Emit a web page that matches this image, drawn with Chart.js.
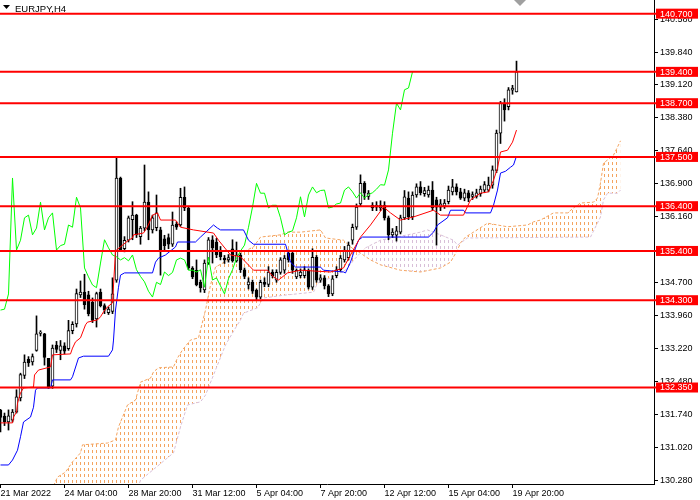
<!DOCTYPE html>
<html lang="en">
  <head>
    <meta charset="UTF-8" />
    <title>EURJPY,H4</title>
    <style>
      html, body { margin: 0; padding: 0; background: #fff; }
    </style>
  </head>
  <body>
    <canvas id="myChart" width="700" height="500"></canvas>

    <script src="https://cdn.jsdelivr.net/npm/chart.js@4.4.0/dist/chart.umd.min.js"></script>
    <script>
      // EURJPY H4 candles, 21 Mar - 20 Apr 2022
      const opens = [
        131.84, 131.71, 131.58, 131.62, 131.80, 132.12, 132.62, 132.98, 132.92, 133.18,
        133.56, 133.55, 133.00, 132.38, 133.30, 133.18, 133.28, 133.22, 133.62, 133.77,
        134.42, 134.48, 134.42, 134.25, 133.88, 134.48, 134.18, 134.02, 134.05, 134.75,
        137.03, 135.45, 135.64, 136.10, 136.20, 135.72, 135.91, 136.49, 135.87, 135.92,
        135.87, 135.67, 135.70, 135.55, 136.00, 135.98, 136.60, 136.36, 135.02, 134.97,
        134.70, 134.53, 135.13, 135.65, 135.60, 135.42, 135.24, 135.20, 135.45, 135.18,
        135.31, 134.98, 134.64, 134.70, 134.52, 134.37, 134.70, 134.65, 134.93, 134.75,
        134.92, 134.97, 135.35, 135.35, 134.82, 134.85, 134.85, 134.97, 134.59, 135.26,
        134.75, 134.80, 134.62, 134.44, 134.85, 134.98, 135.20, 135.25, 135.64, 135.93,
        136.45, 136.91, 136.62, 136.42, 136.38, 136.36, 136.42, 136.14, 135.76, 135.75,
        135.82, 136.14, 136.58, 136.16, 136.65, 136.83, 136.68, 136.65, 136.76, 136.54,
        136.38, 136.40, 136.50, 136.72, 136.83, 136.72, 136.58, 136.70, 136.62, 136.62,
        136.68, 136.76, 136.76, 136.87, 137.20, 138.03, 138.70, 138.62, 138.99, 138.95
      ];
      const highs = [
        131.86, 131.78, 131.85, 131.86, 132.30, 132.67, 133.08, 133.04, 133.10, 133.95,
        133.62, 133.56, 133.00, 133.30, 133.38, 133.40, 133.35, 133.85, 133.82, 134.55,
        134.73, 134.88, 134.50, 134.35, 134.48, 134.55, 134.22, 134.15, 134.80, 137.50,
        137.05, 135.72, 136.18, 136.50, 136.22, 135.95, 137.32, 136.72, 136.20, 136.65,
        135.93, 135.75, 135.78, 136.27, 136.05, 136.80, 136.83, 136.40, 135.05, 135.20,
        134.75, 135.20, 135.70, 135.74, 135.68, 135.50, 135.30, 135.32, 135.65, 135.60,
        135.35, 135.02, 134.80, 134.75, 134.55, 134.75, 134.80, 135.05, 134.98, 134.98,
        135.25, 135.30, 135.42, 135.40, 135.00, 135.00, 135.05, 135.00, 135.45, 135.30,
        134.87, 134.85, 134.65, 134.85, 135.05, 135.30, 135.50, 135.60, 136.00, 136.45,
        137.10, 136.95, 136.75, 136.48, 136.50, 136.52, 136.50, 136.18, 135.90, 135.95,
        136.20, 136.75, 136.72, 136.72, 136.90, 136.95, 136.82, 136.85, 136.95, 136.60,
        136.55, 136.55, 136.85, 137.00, 136.90, 136.80, 136.78, 136.75, 136.72, 136.78,
        136.85, 136.95, 137.05, 137.30, 138.10, 138.74, 138.80, 139.05, 139.10, 139.64
      ];
      const lows = [
        131.36, 131.50, 131.40, 131.58, 131.78, 132.05, 132.55, 132.82, 132.85, 133.16,
        133.50, 132.85, 132.33, 132.33, 133.13, 132.97, 133.10, 133.18, 133.55, 133.70,
        134.36, 134.10, 133.95, 133.80, 133.70, 134.15, 134.00, 133.98, 134.00, 134.70,
        135.40, 135.38, 135.60, 135.65, 135.70, 135.55, 135.85, 135.65, 135.80, 135.85,
        134.86, 135.40, 135.45, 135.50, 135.88, 135.95, 136.30, 134.98, 134.78, 134.62,
        134.48, 134.47, 135.10, 135.13, 135.25, 135.20, 135.12, 135.15, 135.15, 135.15,
        134.92, 134.78, 134.55, 134.45, 134.30, 134.33, 134.60, 134.60, 134.80, 134.70,
        134.88, 134.90, 135.15, 134.90, 134.78, 134.80, 134.80, 134.55, 134.54, 134.70,
        134.70, 134.55, 134.38, 134.40, 134.80, 134.95, 135.15, 135.20, 135.55, 135.88,
        136.40, 136.55, 136.55, 136.30, 136.30, 136.30, 136.09, 135.65, 135.70, 135.62,
        135.78, 136.10, 136.10, 136.10, 136.60, 136.65, 136.62, 136.60, 136.30, 135.53,
        136.30, 136.35, 136.45, 136.65, 136.65, 136.55, 136.52, 136.50, 136.55, 136.58,
        136.62, 136.70, 136.72, 136.80, 137.15, 137.80, 138.30, 138.55, 138.90, 138.95
      ];
      const closes = [
        131.68, 131.58, 131.72, 131.80, 132.14, 132.64, 132.92, 132.90, 133.04, 133.55,
        133.59, 133.02, 132.35, 133.23, 133.20, 133.28, 133.16, 133.62, 133.76, 134.45,
        134.48, 134.20, 134.00, 133.85, 134.45, 134.18, 134.08, 134.10, 134.44, 137.03,
        135.42, 135.64, 136.14, 136.20, 135.76, 135.91, 136.49, 135.87, 136.14, 136.25,
        135.42, 135.52, 135.55, 135.98, 135.93, 136.60, 136.36, 135.02, 134.82, 134.64,
        134.58, 135.13, 135.65, 135.47, 135.31, 135.27, 135.20, 135.25, 135.18, 135.31,
        134.98, 134.83, 134.71, 134.50, 134.37, 134.70, 134.65, 134.93, 134.85, 134.92,
        135.20, 135.24, 135.20, 134.97, 134.97, 134.93, 134.98, 134.59, 135.26, 134.75,
        134.80, 134.62, 134.44, 134.78, 134.98, 135.24, 135.40, 135.53, 135.93, 136.38,
        136.91, 136.69, 136.69, 136.36, 136.42, 136.42, 136.14, 135.76, 135.82, 135.85,
        136.14, 136.61, 136.16, 136.65, 136.83, 136.70, 136.75, 136.76, 136.36, 136.38,
        136.45, 136.47, 136.76, 136.83, 136.72, 136.58, 136.70, 136.58, 136.66, 136.70,
        136.78, 136.88, 136.87, 137.21, 138.03, 138.70, 138.55, 139.00, 139.04, 139.40
      ];

      // Ichimoku lines: [bar index, price]
      const tenkan = [
        [0, 131.56], [3, 131.56], [3.25, 131.69], [4, 131.80], [4.25, 132.00], [5, 132.23],
        [5.75, 132.34], [8.25, 132.36], [8.5, 132.63], [9.5, 132.74], [12.5, 132.81], [13, 133.08],
        [17.5, 133.10], [18, 133.23], [18.75, 133.37], [20, 133.46], [21.25, 133.75], [21.75, 133.81],
        [24.25, 133.86], [25, 133.93], [25.75, 134.04], [26.75, 134.15], [28, 134.24], [28.75, 135.40],
        [32, 135.64], [33, 135.69], [33.25, 135.76], [35.75, 135.80], [36.75, 135.94], [38, 136.20],
        [39.25, 136.25], [40, 136.09], [43.75, 136.09], [45, 135.93], [48.25, 135.87], [53.25, 135.80],
        [54.5, 135.64], [57.5, 135.31], [60, 135.27], [63.25, 134.97], [66.75, 134.97], [68.25, 134.82],
        [69.5, 134.75], [71.75, 134.91], [75, 134.97], [82.5, 134.93], [85.75, 135.02], [87.5, 135.31],
        [90, 135.71], [92.5, 135.98], [95.75, 136.38], [97.5, 136.25], [100, 136.09], [103.25, 136.16],
        [108.25, 136.31], [110, 136.20], [115.75, 136.20], [117.5, 136.54], [120, 136.69], [122, 136.72],
        [123.25, 136.98], [124.25, 137.25], [125, 137.61], [126.75, 137.65], [128, 137.83], [129, 138.10]
      ];
      const kijun = [
        [0, 130.62], [2, 130.62], [3, 130.73], [4.25, 130.95], [5, 131.25], [5.75, 131.58],
        [7.5, 131.69], [8.25, 131.91], [8.75, 132.29], [9.25, 132.34], [12.5, 132.34], [13, 132.52],
        [17.5, 132.52], [18, 132.59], [19.5, 133.01], [20.75, 133.05], [27, 133.05], [28, 133.19],
        [28.25, 133.41], [28.75, 134.08], [29.5, 134.59], [30, 134.86], [31, 134.91], [38, 134.91],
        [38.75, 135.15], [39.5, 135.24], [41.25, 135.31], [43.75, 135.49], [44.25, 135.60], [48.75, 135.60],
        [50, 135.71], [53.25, 135.98], [54.25, 135.91], [55, 135.87], [60.75, 135.87], [62, 135.64],
        [63.25, 135.55], [71.25, 135.55], [72.5, 135.15], [73.75, 135.04], [80, 135.04], [80.75, 134.97],
        [85.75, 134.93], [86.25, 134.91], [87.5, 135.15], [88.25, 135.35], [89.5, 135.64], [90.5, 135.71],
        [107, 135.71], [108.25, 135.82], [109.25, 135.98], [111.75, 136.14], [112.5, 136.31], [115.75, 136.31],
        [116.25, 136.25], [122.5, 136.25], [123.25, 136.42], [124.25, 136.76], [125, 137.14], [126.25, 137.18],
        [127.5, 137.27], [128.25, 137.32], [129, 137.52]
      ];
      const senkouA = [
        [12, 129.84], [13.25, 130.15], [14.25, 130.35], [16.25, 130.46], [18, 130.69], [20, 130.89],
        [20.5, 131.07], [26.75, 131.11], [28.75, 131.18], [29.5, 131.47], [31.75, 131.96], [33.75, 132.07],
        [34.25, 132.23], [35, 132.47], [37.5, 132.56], [38.25, 132.70], [39.5, 132.79], [43.25, 132.81],
        [44.25, 133.01], [45.5, 133.19], [47.5, 133.41], [49.5, 133.46], [51.25, 134.08], [52.5, 134.64],
        [53.75, 135.04], [60, 135.35], [63.25, 135.49], [65, 135.71], [70, 135.76], [71.75, 135.82],
        [75, 135.82], [80, 135.87], [81.25, 135.69], [85.75, 135.64], [87.5, 135.49], [90, 135.35],
        [92.5, 135.20], [95, 135.09], [100, 134.97], [105, 134.93], [110, 135.02], [112.5, 135.15],
        [114.25, 135.42], [115, 135.58], [116.25, 135.71], [118.25, 135.82], [121.75, 136.02], [124.25, 135.98],
        [126.75, 135.94], [131.75, 135.98], [133.25, 136.05], [135, 136.09], [138.25, 136.25], [141.75, 136.25],
        [143.25, 136.36], [145, 136.47], [148.25, 136.49], [149.25, 136.58], [150, 136.92], [150.75, 137.36],
        [153.25, 137.54], [154.25, 137.72], [155, 137.86]
      ];
      const senkouB = [
        [12, 128.50], [30, 128.94], [35, 130.28], [43.25, 130.89], [45, 131.47], [46.75, 131.96],
        [50, 132.03], [51.25, 132.18], [53.75, 132.74], [56.25, 133.30], [58.75, 133.68], [60, 133.86],
        [60.75, 134.01], [64.25, 134.13], [65.75, 134.35], [70.75, 134.41], [78.25, 134.48], [79.25, 134.68],
        [82.5, 134.80], [86.25, 134.97], [88.75, 135.24], [91.25, 135.47], [95, 135.64], [101.75, 135.76],
        [105, 135.82], [106.75, 135.87], [110, 135.76], [113.25, 135.64], [114.25, 135.53], [116.75, 135.69],
        [147.5, 135.71], [150, 136.16], [150.75, 136.54], [151.75, 136.69], [154.25, 136.69], [155, 136.76]
      ];
      const chikouShift = 26;

      // horizontal levels and axis labels
      const levels = [140.70, 139.40, 138.70, 137.50, 136.40, 135.40, 134.30, 132.35];
      const yTicks = [140.58, 139.84, 139.12, 138.38, 137.64, 136.90, 136.16, 135.42,
                      134.70, 133.96, 133.22, 132.48, 131.74, 131.02, 130.28];
      const xTickIdx = [0, 16, 32, 48, 64, 80, 96, 112, 128];
      const xTickLabels = ["21 Mar 2022", "24 Mar 04:00", "28 Mar 20:00", "31 Mar 12:00",
                           "5 Apr 04:00", "7 Apr 20:00", "12 Apr 12:00", "15 Apr 04:00", "19 Apr 20:00"];

      const FONT = "Liberation Sans";

      function hatch(color) {
        const c = document.createElement("canvas");
        c.width = 4;
        c.height = 6;
        const g = c.getContext("2d");
        g.fillStyle = color;
        g.fillRect(0, 0, 1, 3);
        return g.createPattern(c, "repeat");
      }
      const upKumo = hatch("#f4a460");
      const downKumo = hatch("#d8bfd8");

      const pairs = (arr) => arr.map((p) => ({ x: p[0], y: p[1] }));
      const idx = closes.map((c, i) => i);

      const levelsPlugin = {
        id: "levels",
        afterDraw(chart) {
          const ctx = chart.ctx;
          const y = chart.scales.y;
          const area = chart.chartArea;
          ctx.save();
          levels.forEach((lv) => {
            const py = y.getPixelForValue(lv);
            ctx.strokeStyle = "#ff0000";
            ctx.lineWidth = 2;
            ctx.beginPath();
            ctx.moveTo(area.left, py);
            ctx.lineTo(area.right + 2, py);
            ctx.stroke();
            ctx.fillStyle = "#ff0000";
            ctx.fillRect(area.right + 2, py - 5, 42, 10);
            ctx.fillStyle = "#ffffff";
            ctx.font = "9px '" + FONT + "'";
            ctx.textBaseline = "middle";
            ctx.textAlign = "left";
            ctx.fillText(lv.toFixed(3), area.right + 6, py + 0.5);
          });
          // symbol caption
          ctx.fillStyle = "#000";
          ctx.beginPath();
          ctx.moveTo(3, 5);
          ctx.lineTo(10, 5);
          ctx.lineTo(6.5, 9);
          ctx.closePath();
          ctx.fill();
          ctx.font = "9.5px '" + FONT + "'";
          ctx.textBaseline = "alphabetic";
          ctx.fillText("EURJPY,H4", 15, 12);
          // chart shift marker
          ctx.fillStyle = "#a0a0a0";
          ctx.beginPath();
          ctx.moveTo(514, 0);
          ctx.lineTo(526, 0);
          ctx.lineTo(520, 6);
          ctx.closePath();
          ctx.fill();
          ctx.restore();
        },
      };

      const ctx = document.getElementById("myChart").getContext("2d");
      const myChart = new Chart(ctx, {
        data: {
          datasets: [
            {
              type: "line",
              label: "Senkou A",
              data: pairs(senkouA),
              borderColor: "#f4a460",
              borderWidth: 1,
              borderDash: [3, 2],
              pointRadius: 0,
              fill: { target: 1, above: upKumo, below: downKumo },
              order: 10,
            },
            {
              type: "line",
              label: "Senkou B",
              data: pairs(senkouB),
              borderColor: "#d8bfd8",
              borderWidth: 1,
              borderDash: [3, 2],
              pointRadius: 0,
              fill: false,
              order: 9,
            },
            {
              type: "bar",
              label: "wick",
              data: idx.map((i) => ({ x: i, y: [lows[i], highs[i]] })),
              backgroundColor: "#000",
              barThickness: 1,
              grouped: false,
              order: 6,
            },
            {
              type: "bar",
              label: "body",
              data: idx.map((i) => ({ x: i, y: [opens[i], closes[i]] })),
              backgroundColor: (c) => (closes[c.dataIndex] >= opens[c.dataIndex] ? "#ffffff" : "#000000"),
              borderColor: "#000",
              borderWidth: 1,
              borderSkipped: false,
              barThickness: 3,
              grouped: false,
              order: 5,
            },
            {
              type: "line",
              label: "Chikou",
              data: closes.slice(chikouShift).map((c, i) => ({ x: i, y: c })),
              borderColor: "#00ff00",
              borderWidth: 1,
              pointRadius: 0,
              order: 3,
            },
            {
              type: "line",
              label: "Kijun",
              data: pairs(kijun),
              borderColor: "#0000ff",
              borderWidth: 1,
              pointRadius: 0,
              order: 2,
            },
            {
              type: "line",
              label: "Tenkan",
              data: pairs(tenkan),
              borderColor: "#ff0000",
              borderWidth: 1,
              pointRadius: 0,
              order: 1,
            },
          ],
        },
        options: {
          responsive: false,
          animation: false,
          devicePixelRatio: 1,
          layout: { padding: 0 },
          plugins: { legend: { display: false }, tooltip: { enabled: false } },
          scales: {
            x: {
              type: "linear",
              position: "bottom",
              offset: false,
              min: -0.125,
              max: 163.375,
              afterBuildTicks: (s) => { s.ticks = xTickIdx.map((v) => ({ value: v })); },
              afterFit: (s) => {
                s.height = 16;
                s.paddingLeft = 0;
                s.paddingRight = 0;
              },
              ticks: {
                autoSkip: false,
                maxRotation: 0,
                align: "start",
                padding: 0,
                color: "#000",
                font: { family: FONT, size: 9 },
                callback: (v) => xTickLabels[xTickIdx.indexOf(v)] || "",
              },
              grid: { offset: false, drawOnChartArea: false, drawTicks: true, tickLength: 4, color: "#000" },
              border: { color: "#000" },
            },
            y: {
              type: "linear",
              position: "right",
              min: 130.195,
              max: 141.005,
              afterBuildTicks: (s) => { s.ticks = yTicks.map((v) => ({ value: v })); },
              afterFit: (s) => {
                s.width = 46;
                s.paddingTop = 0;
                s.paddingBottom = 0;
              },
              ticks: {
                padding: 2,
                color: "#000",
                font: { family: FONT, size: 9 },
                callback: (v) => Number(v).toFixed(3),
              },
              grid: { drawOnChartArea: false, drawTicks: true, tickLength: 4, color: "#000" },
              border: { color: "#000" },
            },
          },
        },
        plugins: [levelsPlugin],
      });
    </script>
  </body>
</html>
